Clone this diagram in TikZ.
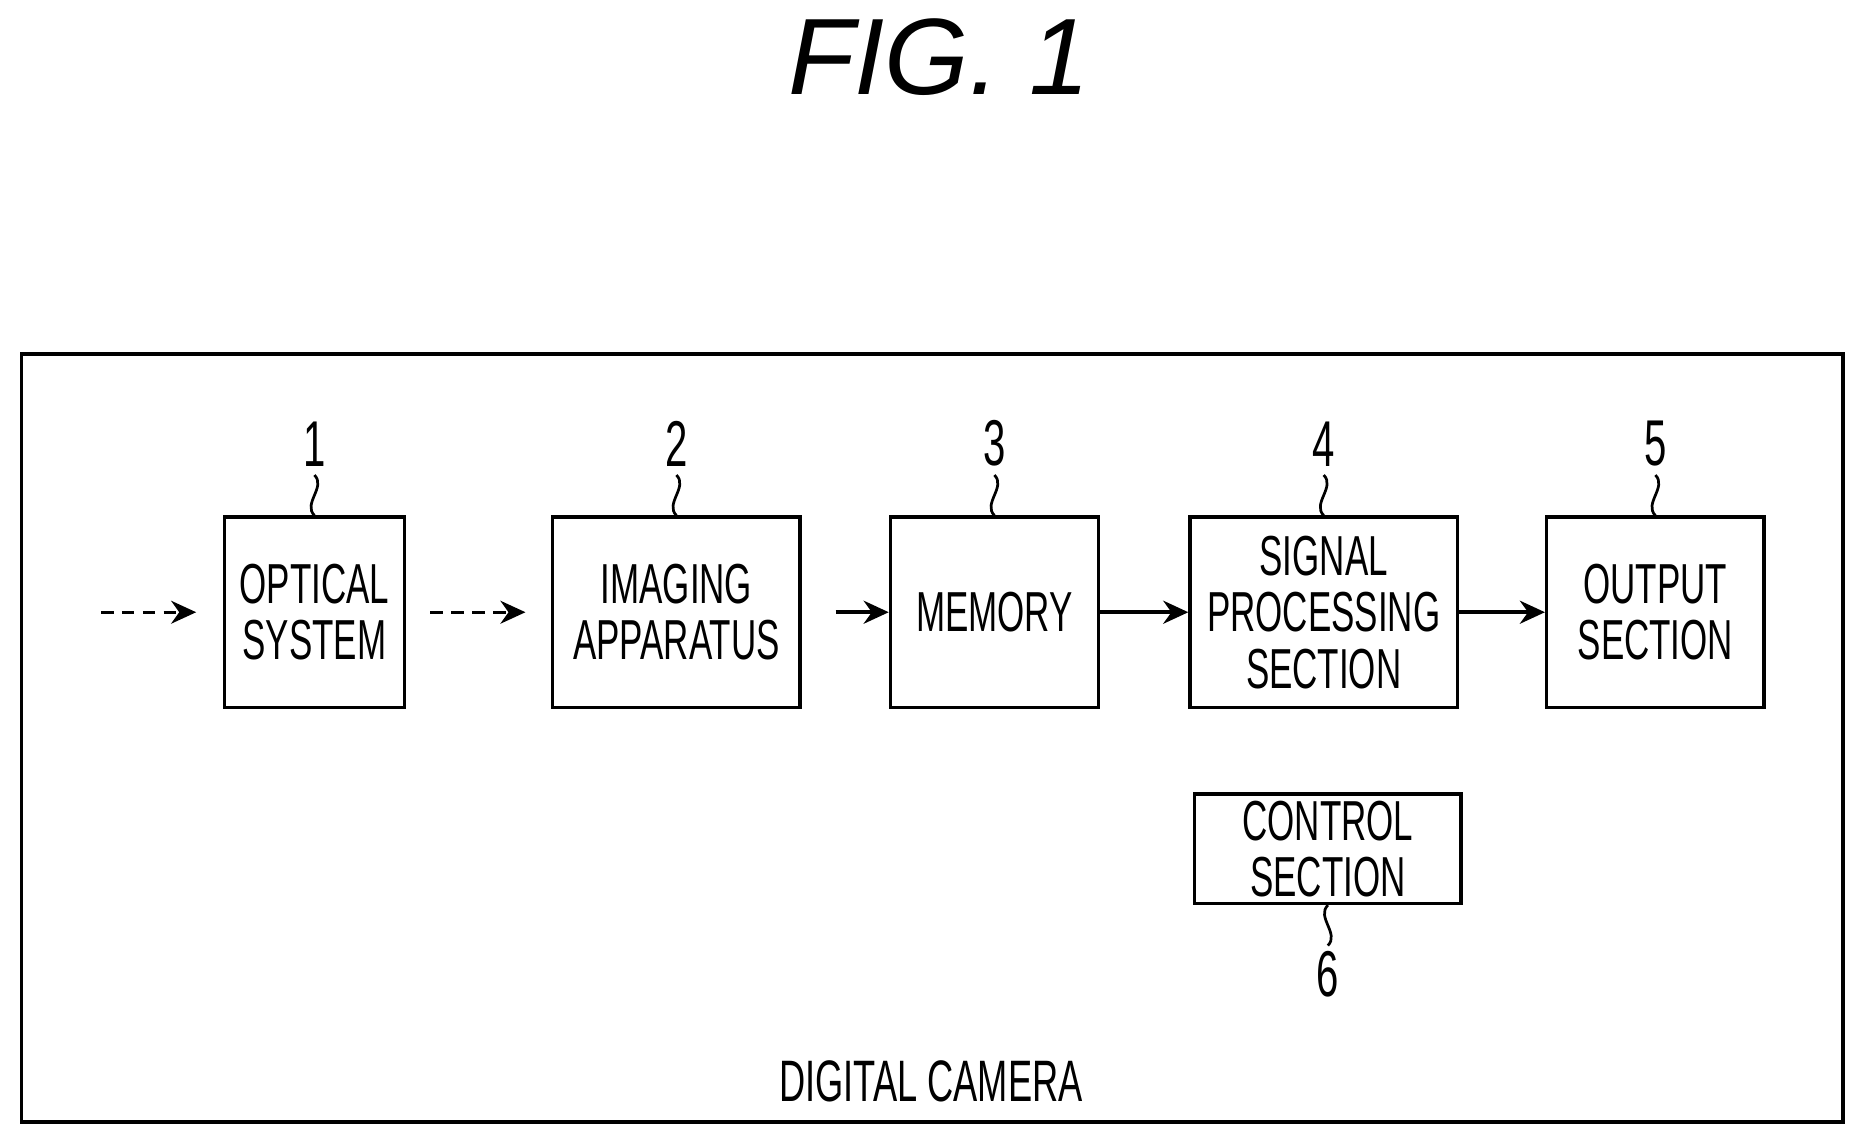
\documentclass[tikz,border=0pt]{standalone}
\usepackage{fontspec}
\setmainfont{Liberation Sans}
\newfontfamily\condfont[FakeStretch=0.62]{Liberation Sans}
\usetikzlibrary{arrows,positioning}
\tikzset{
  block/.style={draw=black,line width=1.6pt,font=\condfont\fontsize{27}{27}\selectfont,align=center,inner sep=0pt},
  refnum/.style={font=\condfont\fontsize{31}{31}\selectfont},
  flow/.style={-{Stealth[length=12pt,width=11pt]},line width=1.8pt},
  light/.style={flow,line width=1.3pt,dash pattern=on 6pt off 4pt},
  squig/.style={line width=1.3pt}
}
\usetikzlibrary{arrows.meta}
\begin{document}
\begin{tikzpicture}[x=0.02cm,y=-0.02cm]
\useasboundingbox (0,0) rectangle (1568,964);
\node[font=\itshape\fontsize{52}{52}\selectfont] (title) at (790,48) {FIG. 1};
\draw[line width=1.8pt] (18,298) rectangle (1550,944);
\node[font=\condfont\fontsize{28}{28}\selectfont] (cam) at (783,910) {DIGITAL CAMERA};
% blocks
\node[block,minimum width=3.02cm,minimum height=3.2cm] (opt) at (264.5,515) {OPTICAL\\SYSTEM};
\node[block,minimum width=4.16cm,minimum height=3.2cm] (img) at (569,515) {IMAGING\\APPARATUS};
\node[block,minimum width=3.5cm,minimum height=3.2cm] (mem) at (836.5,515) {MEMORY};
\node[block,minimum width=4.5cm,minimum height=3.2cm] (sig) at (1113.5,515) {SIGNAL\\PROCESSING\\SECTION};
\node[block,minimum width=3.66cm,minimum height=3.2cm] (out) at (1392.5,515) {OUTPUT\\SECTION};
\node[block,minimum width=4.48cm,minimum height=1.84cm] (ctl) at (1117,714) {CONTROL\\SECTION};
% reference numbers
\foreach \n/\b in {1/opt,2/img,3/mem,4/sig,5/out}{
  \node[refnum,above=0.7cm of \b.north] (n\n) {\n};
  \draw[squig] (\b.north) .. controls ++(-10,-10) and ++(10,10) .. ++(0,-34);
}
\node[refnum,below=0.65cm of ctl.south] (n6) {6};
\draw[squig] (ctl.south) .. controls ++(-10,10) and ++(10,-10) .. ++(0,34);
% connectors
\coordinate (in) at (85,515);
\coordinate (in2) at (165,515);
\coordinate (m1) at (362,515);
\coordinate (m2) at (442,515);
\coordinate (m3) at (703,515);
\draw[light] (in) -- (in2);
\draw[light] (m1) -- (m2);
\draw[flow] (m3) -- (mem.west);
\draw[flow] (mem) -- (sig);
\draw[flow] (sig) -- (out);
\end{tikzpicture}
\end{document}
